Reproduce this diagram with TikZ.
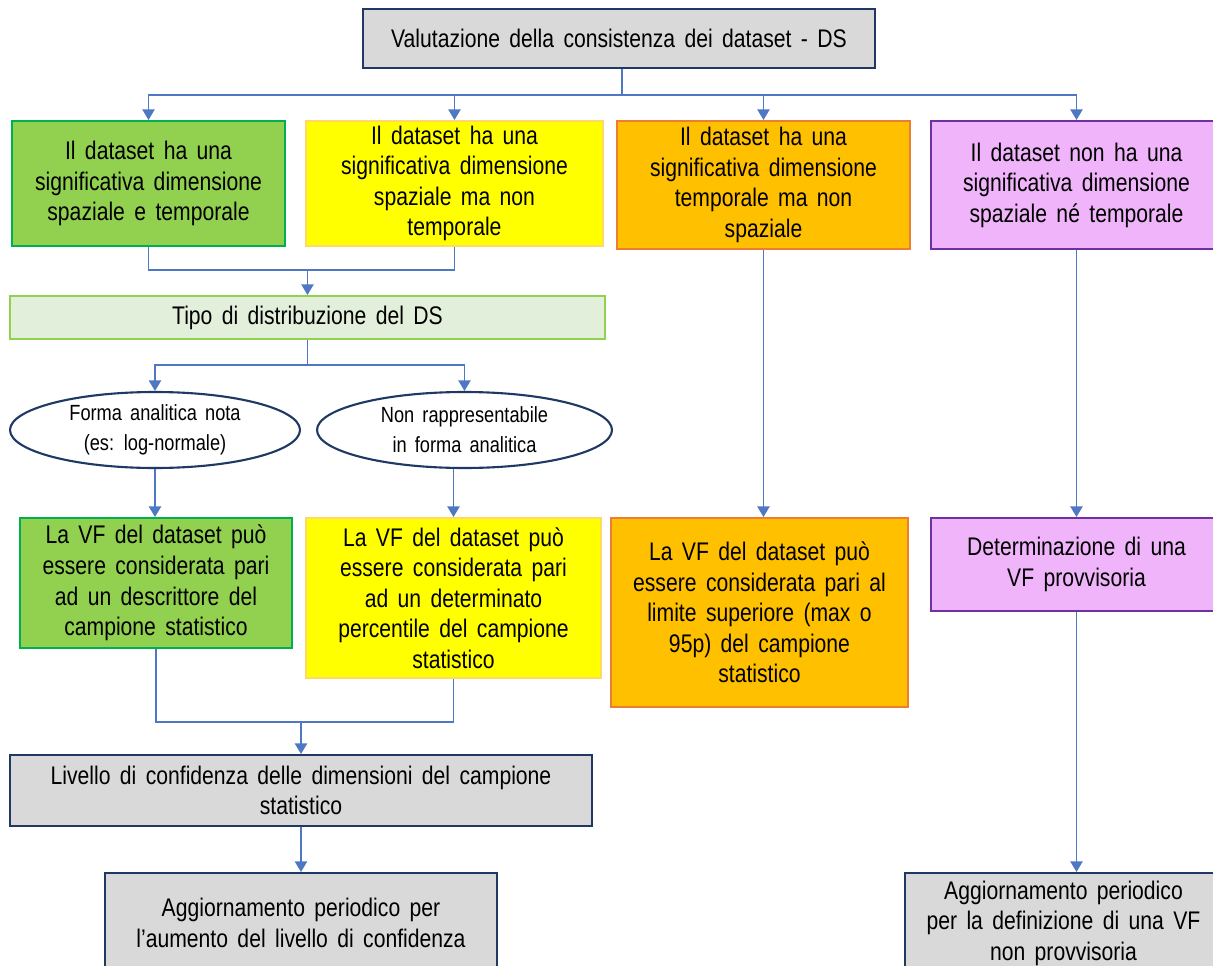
\documentclass[tikz,border=0pt]{standalone}
\usepackage{fontspec}
\setmainfont[FakeStretch=0.83, WordSpace=1.6]{Liberation Sans}
\definecolor{GreyFill}{HTML}{D9D9D9}
\definecolor{NavyLine}{HTML}{1F3864}
\definecolor{LinkBlue}{HTML}{4F78C4}
\definecolor{GreenFill}{HTML}{92D050}
\definecolor{GreenLine}{HTML}{00B050}
\definecolor{YellowFill}{HTML}{FFFF00}
\definecolor{YellowLine}{HTML}{FFD966}
\definecolor{OrangeFill}{HTML}{FFC000}
\definecolor{OrangeLine}{HTML}{ED7D31}
\definecolor{LilacFill}{HTML}{F0B4FA}
\definecolor{LilacLine}{HTML}{7030A0}
\definecolor{PaleGreen}{HTML}{E2EFDA}
\usetikzlibrary{shapes.geometric, arrows.meta, calc}
\tikzset{
    box/.style={
        draw=#1,
        line width=1.2pt,
        inner sep=0pt,
        text=black,
        font=\fontsize{14.5}{17.4}\selectfont,
        align=center
    },
    box/.default=NavyLine,
    greybox/.style={box=NavyLine, fill=GreyFill},
    greenbox/.style={box=GreenLine, fill=GreenFill},
    yellowbox/.style={box=YellowLine, fill=YellowFill},
    orangebox/.style={box=OrangeLine, fill=OrangeFill},
    lilacbox/.style={box=LilacLine, fill=LilacFill},
    oval/.style={
        ellipse,
        draw=NavyLine,
        line width=1.2pt,
        fill=white,
        inner sep=0pt,
        font=\fontsize{12.5}{17}\selectfont,
        align=center
    },
    link/.style={
        draw=LinkBlue,
        line width=0.8pt
    },
    arrow/.style={
        link,
        -{Triangle[width=7pt,length=6pt]}
    }
}

\begin{document}
\begin{tikzpicture}[x=0.02cm, y=-0.02cm]
        \useasboundingbox (0,0) rectangle (1213,966);
        \clip (0,0) rectangle (1213,966);

        % Top
        \node[greybox, minimum width=10.24cm, minimum height=1.18cm] (top) at (619,38.5)
            {Valutazione della consistenza dei dataset - DS};

        % First row: kind of dataset
        \node[greenbox, minimum width=5.46cm, minimum height=2.5cm] (sptemp) at (148.5,183.5)
            {Il dataset ha una\\significativa dimensione\\spaziale e temporale};
        \node[yellowbox, minimum width=5.94cm, minimum height=2.5cm] (spaz) at (454.5,183.5)
            {Il dataset ha una\\significativa dimensione\\spaziale ma non\\temporale};
        \node[orangebox, minimum width=5.86cm, minimum height=2.56cm] (temp) at (763.5,185)
            {Il dataset ha una\\significativa dimensione\\temporale ma non\\spaziale};
        \node[lilacbox, minimum width=5.82cm, minimum height=2.56cm] (none) at (1076.5,185)
            {Il dataset non ha una\\significativa dimensione\\spaziale n\'e temporale};

        % Distribution
        \node[box=GreenFill, fill=PaleGreen, minimum width=11.9cm, minimum height=0.86cm] (tipo) at (307.5,317.5)
            {Tipo di distribuzione del DS};
        \node[oval, minimum width=5.8cm, minimum height=1.52cm] (nota) at (155,430)
            {Forma analitica nota\\(es: log-normale)};
        \node[oval, minimum width=5.9cm, minimum height=1.52cm] (nonan) at (464.5,430)
            {Non rappresentabile\\in forma analitica};

        % Third row: value of VF
        \node[greenbox, minimum width=5.44cm, minimum height=2.6cm] (descr) at (156,583)
            {La VF del dataset pu\`o\\essere considerata pari\\ad un descrittore del\\campione statistico};
        \node[yellowbox, minimum width=5.9cm, minimum height=3.2cm] (perc) at (453.5,598)
            {La VF del dataset pu\`o\\essere considerata pari\\ad un determinato\\percentile del campione\\statistico};
        \node[orangebox, minimum width=5.94cm, minimum height=3.78cm] (lim) at (759.5,612.5)
            {La VF del dataset pu\`o\\essere considerata pari al\\limite superiore (max o\\95p) del campione\\statistico};
        \node[lilacbox, minimum width=5.82cm, minimum height=1.86cm] (prov) at (1076.5,564.5)
            {Determinazione di una\\VF provvisoria};

        % Bottom
        \node[greybox, minimum width=11.64cm, minimum height=1.42cm] (livello) at (301,790.5)
            {Livello di confidenza delle dimensioni del campione\\statistico};
        \node[greybox, minimum width=7.84cm, minimum height=2cm] (aggL) at (301,923)
            {Aggiornamento periodico per\\l'aumento del livello di confidenza};
        \node[greybox, minimum width=6.34cm, minimum height=2cm] (aggR) at (1063.5,923)
            {Aggiornamento periodico\\per la definizione di una VF\\non provvisoria};

        % Connectors
        \coordinate (join1) at (622,95);
        \coordinate (join2) at (307.5,270);
        \coordinate (join3) at (307.5,365);
        \coordinate (join4) at (301,722);
        \draw[link] (top.south -| join1) -- (join1);
        \foreach \n in {sptemp, spaz, temp, none}
            \draw[arrow] (join1) -| (\n.north);
        \draw[link] (sptemp.south) |- (join2);
        \draw[link] (spaz.south) |- (join2);
        \draw[arrow] (join2) -- (tipo.north);
        \draw[link] (tipo.south) -- (join3);
        \draw[arrow] (join3) -| (nota.north);
        \draw[arrow] (join3) -| (nonan.north);
        \draw[arrow] (nota.south) -- (nota.south |- descr.north);
        \draw[arrow] (perc.north |- nonan.south) -- (perc.north);
        \draw[arrow] (temp.south) -- (temp.south |- lim.north);
        \draw[arrow] (none.south) -- (prov.north);
        \draw[link] (descr.south) |- (join4);
        \draw[link] (perc.south) |- (join4);
        \draw[arrow] (join4) -- (livello.north);
        \draw[arrow] (livello.south) -- (aggL.north);
        \draw[arrow] (prov.south) -- (prov.south |- aggR.north);
    \end{tikzpicture}
\end{document}
